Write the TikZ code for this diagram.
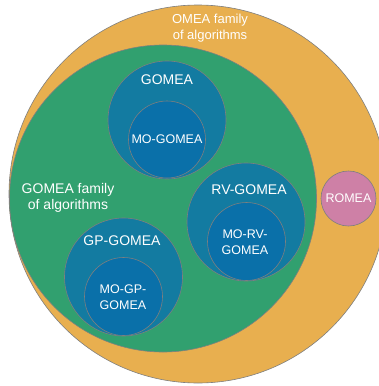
\documentclass[tikz,border=0pt]{standalone}
\usepackage{fontspec}
\setmainfont{Liberation Sans}
\usetikzlibrary{positioning}
\definecolor{omorange}{HTML}{E8AF4F}
\definecolor{omgreen}{HTML}{31A06F}
\definecolor{omblue}{HTML}{137BA1}
\definecolor{omdeep}{HTML}{0A70A9}
\definecolor{ompink}{HTML}{CE80A6}
\definecolor{omgray}{HTML}{7F7F7F}

\begin{document}
\begin{tikzpicture}[x=1pt,y=-1pt,
    ring/.style={draw=omgray,line width=0.6pt},
    lbl/.style={text=white,align=center,inner sep=0pt},
    big/.style={lbl,font=\fontsize{14}{16.5}\selectfont},
    small/.style={lbl,font=\fontsize{12.5}{16}\selectfont}]

  \useasboundingbox (0,0) rectangle (379,386);
  \clip (0,0) rectangle (379,386);

  % ---- OMEA family (outer) -----------------------------------
  \fill[omorange,ring] (198,194) circle (189);
  \node[lbl,font=\fontsize{13}{16.5}\selectfont] (omea) at (210,28)
    {OMEA family\\of algorithms};

  % ---- GOMEA family ------------------------------------------
  \fill[omgreen,ring] (163,198.5) circle (153.5);
  \node[big] (gomeafam) at (68,198)
    {GOMEA family\\of algorithms};

  % GOMEA
  \fill[omblue,ring] (167,120) circle (59);
  \fill[omdeep,ring] (167,139.5) circle (38.5);
  \node[big] (gomea) at (167,80) {GOMEA};
  \node[small] (mogomea) at (167,139) {MO-GOMEA};

  % RV-GOMEA
  \fill[omblue,ring] (246,222) circle (59);
  \fill[omdeep,ring] (246.5,241.5) circle (39);
  \node[big] (rvgomea) at (249,190) {RV-GOMEA};
  \node[small] (morvgomea) at (245,242) {MO-RV-\\GOMEA};

  % GP-GOMEA
  \fill[omblue,ring] (123.5,277) circle (59);
  \fill[omdeep,ring] (123.5,296.5) circle (39);
  \node[big] (gpgomea) at (122,241) {GP-GOMEA};
  \node[small] (mogpgomea) at (123,297) {MO-GP-\\GOMEA};

  % ---- ROMEA -------------------------------------------------
  \fill[ompink,ring] (348.5,198.5) circle (27.5);
  \node[small] (romea) at (348.5,198.5) {ROMEA};

\end{tikzpicture}
\end{document}
